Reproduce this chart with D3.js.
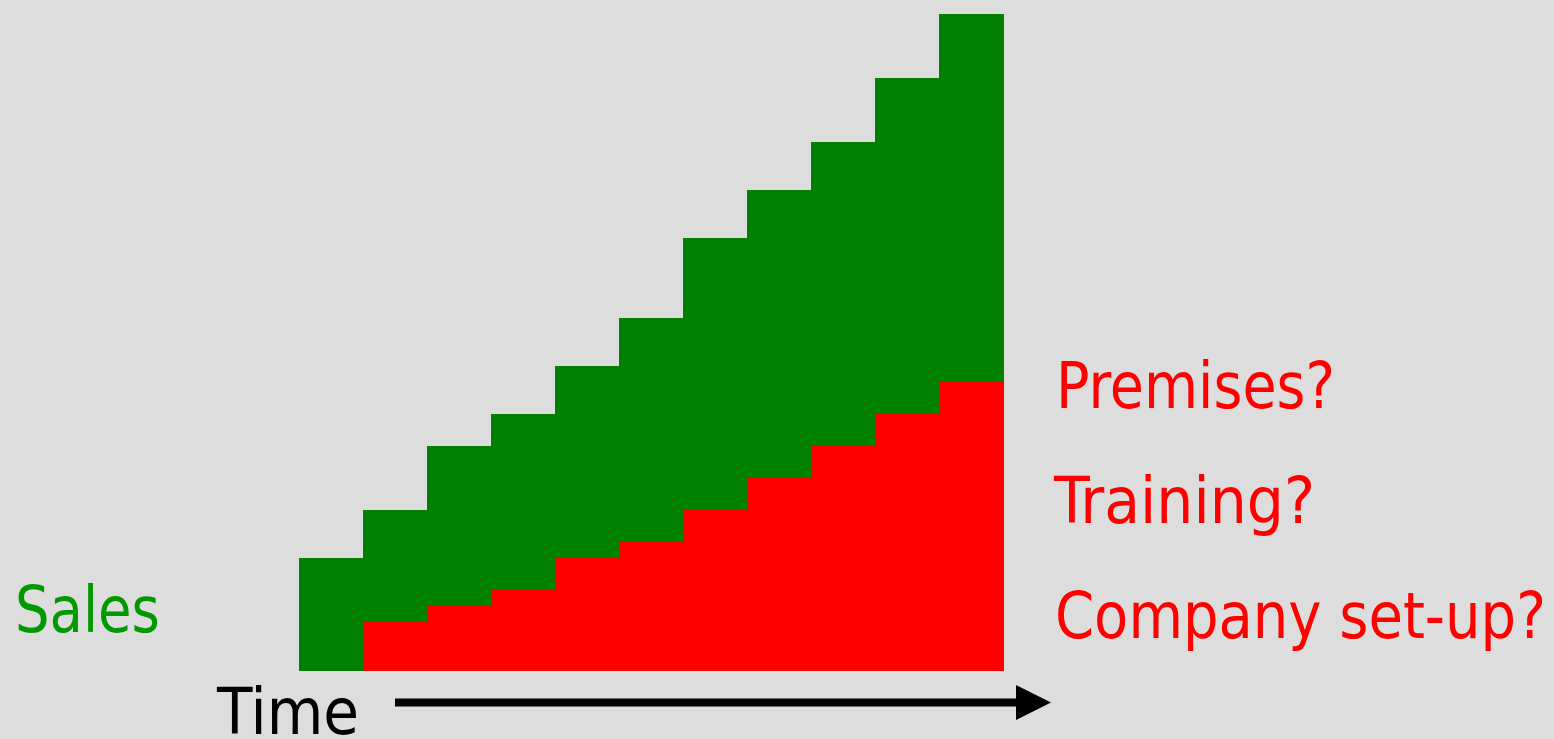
<!DOCTYPE html>
<html>
<head>
<meta charset="utf-8">
<script src="https://cdn.jsdelivr.net/npm/d3@7"></script>
<style>
html,body{margin:0;padding:0;background:#dddddd;overflow:hidden;}
svg{display:block;}
text{font-family:"DejaVu Sans Condensed","DejaVu Sans",Verdana,sans-serif;font-stretch:condensed;}
</style>
</head>
<body>
<svg id="chart" width="1554" height="739"></svg>
<script>
// Data
const periods = ["1","2","3","4","5","6","7","8","9","10","11"];
const salesTotal = [7,10,14,16,19,22,27,30,33,37,41];
const costs = [0,3,4,5,7,8,10,12,14,16,18];
const costLabels = ["Premises?","Training?","Company set-up?"];
const salesLabel = "Sales";
const timeLabel = "Time";

const svg = d3.select("#chart");
svg.append("rect").attr("width",1554).attr("height",739).attr("fill","#dddddd");

const x = d3.scaleBand().domain(periods).range([299,1003]).padding(0);
const y = d3.scaleLinear().domain([0,41]).range([670,14]);

const g = svg.append("g");
g.selectAll("rect.sales").data(periods).join("rect")
  .attr("class","sales")
  .attr("x",d=>x(d)).attr("width",x.bandwidth()+0.5)
  .attr("y",(d,i)=>y(salesTotal[i]))
  .attr("height",(d,i)=>y(0)-y(salesTotal[i])+1)
  .attr("fill","#008000").attr("shape-rendering","crispEdges");
g.selectAll("rect.cost").data(periods).join("rect")
  .attr("class","cost")
  .attr("x",d=>x(d)).attr("width",x.bandwidth()+0.5)
  .attr("y",(d,i)=>y(costs[i]))
  .attr("height",(d,i)=>costs[i] ? y(0)-y(costs[i])+1 : 0)
  .attr("fill","#ff0000").attr("shape-rendering","crispEdges");

// text placed and fitted to target width via horizontal scale
function fitText(t, tx, ty, w, color){
  const el = svg.append("text")
    .attr("x",0).attr("y",0)
    .attr("font-size",64).attr("fill",color)
    .text(t);
  const w0 = el.node().getComputedTextLength();
  el.attr("transform",`translate(${tx},${ty}) scale(${w/w0},1)`);
  return el;
}
const labelPos = [
  {t:costLabels[0], x:1056, y:408, w:279},
  {t:costLabels[1], x:1054, y:523, w:261},
  {t:costLabels[2], x:1055, y:638, w:491}
];
labelPos.forEach(d=>fitText(d.t,d.x,d.y,d.w,"#ff0000"));
fitText(salesLabel,15,632,145,"#009900");
fitText(timeLabel,217,734,142,"#000000");

// arrow
svg.append("rect").attr("x",395).attr("y",698.5).attr("width",625).attr("height",8).attr("fill","#000");
svg.append("path").attr("d","M1016,685 L1051,702.5 L1016,720 Z").attr("fill","#000");
</script>
</body>
</html>
